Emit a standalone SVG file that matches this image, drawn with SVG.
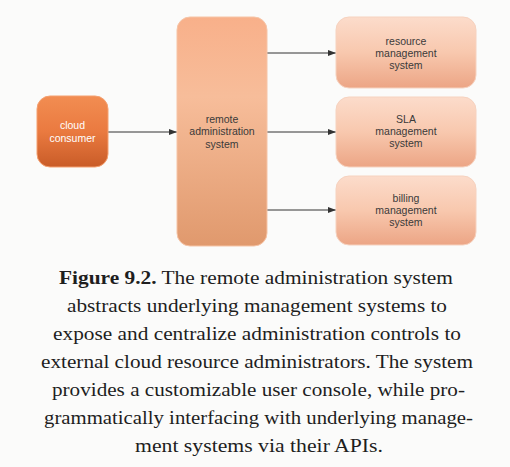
<svg xmlns="http://www.w3.org/2000/svg" width="510" height="467" viewBox="0 0 510 467">
<style>
.lbl{font-family:"Liberation Sans",Arial,sans-serif;font-size:10.5px;text-anchor:middle;fill:#3a3a3a}
.wh{fill:#ffffff}
.cap{font-family:"Liberation Serif","Times New Roman",serif;font-size:18px;fill:#1e1e1e;text-anchor:middle}
.conn{stroke:#333;stroke-width:1;fill:none;marker-end:url(#ah)}
.sub{stroke:#f3d8c8;stroke-width:1}
</style>
<defs>
<linearGradient id="gc" x1="0" y1="0" x2="0" y2="1">
<stop offset="0" stop-color="#f28d52"/>
<stop offset="0.5" stop-color="#ea7a40"/>
<stop offset="1" stop-color="#c95c28"/>
</linearGradient>
<linearGradient id="gr" x1="0" y1="0" x2="0" y2="1">
<stop offset="0" stop-color="#f8b08a"/>
<stop offset="0.35" stop-color="#f7bd9a"/>
<stop offset="1" stop-color="#e0996d"/>
</linearGradient>
<linearGradient id="gs" x1="0" y1="0" x2="0" y2="1">
<stop offset="0" stop-color="#fcdccb"/>
<stop offset="0.5" stop-color="#f8c8ae"/>
<stop offset="1" stop-color="#eca585"/>
</linearGradient>
<marker id="ah" markerWidth="8" markerHeight="6" refX="8" refY="3" orient="auto" markerUnits="userSpaceOnUse">
<path d="M0,0 L8,3 L0,6 Z" fill="#333"/>
</marker>
</defs>
<rect width="510" height="467" fill="#fbfbfa"/>
<g id="connectors">
<line class="conn" x1="108" y1="132" x2="177" y2="132"/>
<line class="conn" x1="267" y1="53" x2="336" y2="53"/>
<line class="conn" x1="267" y1="132" x2="336" y2="132"/>
<line class="conn" x1="267" y1="210" x2="336" y2="210"/>
</g>
<g id="cloud-consumer">
<rect x="37" y="96" width="71" height="71" rx="13" fill="url(#gc)" stroke="#f4a070" stroke-width="1"/>
<text class="lbl wh" x="72.5" y="129">cloud</text>
<text class="lbl wh" x="72.5" y="141.5">consumer</text>
</g>
<g id="remote-administration-system">
<rect x="177" y="17" width="90" height="229" rx="13" fill="url(#gr)" stroke="#f6c4a6" stroke-width="1"/>
<text class="lbl" x="222" y="123">remote</text>
<text class="lbl" x="222" y="135">administration</text>
<text class="lbl" x="222" y="147.5">system</text>
</g>
<g id="resource-management-system">
<rect x="336" y="17" width="140" height="71" rx="13" fill="url(#gs)" stroke="#f6d2bf" stroke-width="1"/>
<text class="lbl" x="406" y="44.5">resource</text>
<text class="lbl" x="406" y="56.5">management</text>
<text class="lbl" x="406" y="68.5">system</text>
</g>
<g id="sla-management-system">
<rect x="336" y="97" width="140" height="70" rx="13" fill="url(#gs)" stroke="#f6d2bf" stroke-width="1"/>
<text class="lbl" x="406" y="123">SLA</text>
<text class="lbl" x="406" y="135">management</text>
<text class="lbl" x="406" y="147">system</text>
</g>
<g id="billing-management-system">
<rect x="336" y="176" width="140" height="69" rx="13" fill="url(#gs)" stroke="#f6d2bf" stroke-width="1"/>
<text class="lbl" x="406" y="202">billing</text>
<text class="lbl" x="406" y="214">management</text>
<text class="lbl" x="406" y="226">system</text>
</g>
<g id="caption">
<text class="cap" x="256" y="284" textLength="394" lengthAdjust="spacingAndGlyphs"><tspan font-weight="bold">Figure 9.2.</tspan> The remote administration system</text>
<text class="cap" x="257" y="312" textLength="380" lengthAdjust="spacingAndGlyphs">abstracts underlying management systems to</text>
<text class="cap" x="257" y="340" textLength="408" lengthAdjust="spacingAndGlyphs">expose and centralize administration controls to</text>
<text class="cap" x="257" y="368" textLength="432" lengthAdjust="spacingAndGlyphs">external cloud resource administrators. The system</text>
<text class="cap" x="258.5" y="396" textLength="413" lengthAdjust="spacingAndGlyphs">provides a customizable user console, while pro-</text>
<text class="cap" x="258.5" y="424" textLength="429" lengthAdjust="spacingAndGlyphs">grammatically interfacing with underlying manage-</text>
<text class="cap" x="259" y="452" textLength="248" lengthAdjust="spacingAndGlyphs">ment systems via their APIs.</text>
</g>
</svg>
